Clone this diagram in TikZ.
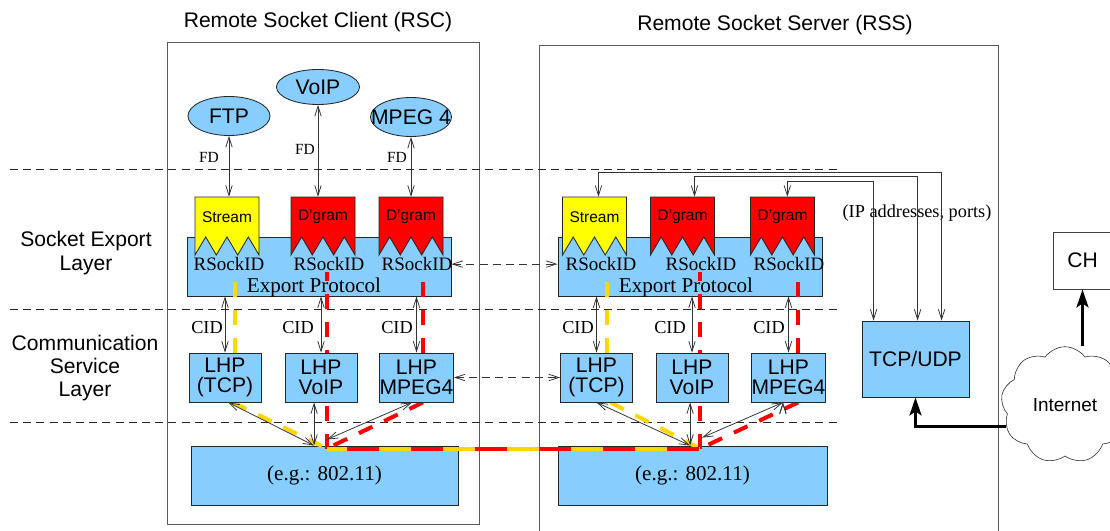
\documentclass[tikz,border=0pt]{standalone}
\usepackage{fontspec}
\setmainfont{Liberation Serif}
\setsansfont{Liberation Sans}
\usepackage{tikz}
\usetikzlibrary{arrows.meta, calc, positioning, shapes.geometric, shapes.symbols}
\definecolor{fxblue}{HTML}{87CEFF}
\definecolor{fxgold}{HTML}{FFD700}
\definecolor{fxred}{HTML}{FF0000}
\definecolor{fxyellow}{HTML}{FFFF00}
\newcommand{\sfsize}[2]{\sffamily\fontsize{#1}{#2}\selectfont}
\newcommand{\rmsize}[2]{\rmfamily\fontsize{#1}{#2}\selectfont}
% socket: name, x, y, fill, label
\newcommand{\drawSocket}[5]{\filldraw[fill=#4, draw=black!85, line width=0.6pt]
    (#2-32,#3-20) -- (#2+32,#3-20) -- (#2+32,#3+38) -- (#2+21.3,#3+20)
    -- (#2+10.7,#3+38) -- (#2,#3+20) -- (#2-10.7,#3+38) -- (#2-21.3,#3+20)
    -- (#2-32,#3+38) -- cycle;
  \node[socklabel] (#1) at (#2,#3) {#5};}
\pgfdeclarelayer{back}
\pgfdeclarelayer{mid}
\pgfsetlayers{back,mid,main}
\tikzset{
    frame/.style={draw=black!65, line width=0.6pt, inner sep=0pt},
    layerline/.style={draw=black!85, line width=0.5pt, dash pattern=on 0.2cm off 0.13cm},
    app/.style={ellipse, draw=black!85, fill=fxblue, inner sep=0pt, line width=0.6pt, font=\sfsize{15}{17}},
    bluebox/.style={draw=black!85, fill=fxblue, inner sep=0pt, line width=0.6pt},
    lhpbox/.style={bluebox, minimum width=1.8cm, minimum height=1.225cm, align=center, font=\sfsize{15}{14}},
    socklabel/.style={inner sep=0pt, minimum width=1.6cm, minimum height=1cm, font=\sfsize{11}{13}},
    sanstext/.style={inner sep=0pt, align=center, font=\sfsize{15}{16.6}},
    serif/.style={inner sep=0pt, font=\rmsize{15}{17}},
    tag/.style={inner sep=0pt, font=\rmsize{13}{15}},
    fdtag/.style={inner sep=0pt, font=\rmsize{11}{13}},
    rsock/.style={inner sep=0pt, font=\rmsize{13.5}{15}},
    biarrow/.style={{Straight Barb[length=0.25cm,width=0.16cm]}-{Straight Barb[length=0.25cm,width=0.16cm]}, draw=black!80, line width=0.55pt},
    dasharrow/.style={biarrow, dash pattern=on 0.2cm off 0.13cm},
    bigarrow/.style={-{Stealth[length=0.45cm,width=0.3cm,inset=0.1cm]}, line width=0.07cm},
    goldflow/.style={draw=fxgold, line width=0.1cm, dash pattern=on 0.375cm off 0.325cm},
    redflow/.style={goldflow, draw=fxred}}
\begin{document}
\begin{tikzpicture}[x=0.025cm, y=-0.025cm]
\useasboundingbox (0,0) rectangle (1110,531);
\clip (0,0) rectangle (1110,531);

\begin{pgfonlayer}{back}
\node[frame, minimum width=7.8cm, minimum height=12.05cm] (rsc) at (323,283) {};
\node[frame, minimum width=11.475cm, minimum height=12.375cm] (rss) at (768.5,292.5) {};
\foreach \ly in {169,309,422}
  \draw[layerline] (10,\ly) -- (838,\ly);
\node[bluebox, minimum width=6.6cm, minimum height=1.475cm] (expL) at (319,266.5) {};
\node[bluebox, minimum width=6.6cm, minimum height=1.475cm] (expR) at (690,266.5) {};
\node[bluebox, minimum width=6.675cm, minimum height=1.475cm, font=\rmsize{15}{17}] (phyL) at (324.5,475.5) {(e.g.: 802.11)};
\node[bluebox, minimum width=6.725cm, minimum height=1.475cm, font=\rmsize{15}{17}] (phyR) at (692.5,475.5) {(e.g.: 802.11)};
\end{pgfonlayer}

\node[sanstext] (rsctitle) at (318,22) {Remote Socket Client (RSC)};
\node[sanstext] (rsstitle) at (775,25) {Remote Socket Server (RSS)};
\node[sanstext] (sel) at (86,253) {Socket Export\\Layer};
\node[sanstext] (csl) at (85,368) {Communication\\Service\\Layer};

% applications
\node[app, minimum width=2.05cm, minimum height=0.975cm] (ftp) at (229,116) {FTP};
\node[app, minimum width=2.075cm, minimum height=0.875cm] (voip) at (318,87) {VoIP};
\node[app, minimum width=2.025cm, minimum height=0.975cm] (mpeg) at (411,117) {};
\node[sanstext] (mpegtext) at (mpeg) {MPEG 4};

% sockets
\drawSocket{sockL1}{227}{217}{fxyellow}{Stream}
\drawSocket{sockL2}{323}{217}{fxred}{D'gram}
\drawSocket{sockL3}{411}{217}{fxred}{D'gram}
\drawSocket{sockR1}{594.5}{217}{fxyellow}{Stream}
\drawSocket{sockR2}{682.5}{217}{fxred}{D'gram}
\drawSocket{sockR3}{782.5}{217}{fxred}{D'gram}

\node[rsock] (idL1) at (229,264) {RSockID};
\node[rsock] (idL2) at (329,264) {RSockID};
\node[rsock] (idL3) at (417,264) {RSockID};
\node[rsock] (idR1) at (601,264) {RSockID};
\node[rsock] (idR2) at (701,264) {RSockID};
\node[rsock] (idR3) at (789,264) {RSockID};
\node[serif] (epL) at (314,287) {Export Protocol};
\node[serif] (epR) at (686,287) {Export Protocol};

% lower hop protocols
\node[lhpbox] (lhpL1) at (225,377.5) {LHP\\(TCP)};
\node[lhpbox] (lhpL2) at (321,377.5) {LHP\\VoIP};
\node[lhpbox] (lhpL3) at (416.5,377.5) {LHP\\MPEG4};
\node[lhpbox] (lhpR1) at (596.5,377.5) {LHP\\(TCP)};
\node[lhpbox] (lhpR2) at (692,377.5) {LHP\\VoIP};
\node[lhpbox] (lhpR3) at (788.5,377.5) {LHP\\MPEG4};

\node[bluebox, minimum width=2.675cm, minimum height=1.9cm, font=\sfsize{15}{17}] (tcp) at (915.5,359) {TCP/UDP};
\node[frame, draw=black!75, minimum width=1.475cm, minimum height=1.425cm, font=\sfsize{15}{17}] (ch) at (1082.5,260.5) {CH};
\node[cloud, draw=black!85, fill=white, cloud puffs=9, cloud puff arc=110, minimum width=3.2cm, minimum height=2.5cm, font=\sfsize{13.5}{15}] (net) at (1065,405) {Internet};
\node[tag] (ipports) at (917,213) {(IP addresses, ports)};

\foreach \n/\x in {fd1/209, fd3/397}
  \node[fdtag] (\n) at (\x,157) {FD};
\node[fdtag] (fd2) at (305,149) {FD};
\foreach \n/\x in {cidL1/207, cidL2/298, cidL3/397, cidR1/578, cidR2/670, cidR3/769}
  \node[tag] (\n) at (\x,328) {CID};

\coordinate (busL) at ([xshift=0.06cm,yshift=-0.075cm]phyL.north);
\coordinate (busR) at ([xshift=0.19cm,yshift=-0.075cm]phyR.north);
\coordinate (hubL) at ([xshift=-0.26cm]phyL.north);
\coordinate (hubL3) at ([xshift=0.06cm,yshift=0.15cm]phyL.north);
\coordinate (hubR) at ([xshift=-0.06cm]phyR.north);
\coordinate (hubR3) at ([xshift=0.24cm,yshift=0.2cm]phyR.north);

% data paths
\begin{pgfonlayer}{mid}
\draw[goldflow] ([xshift=0.25cm]lhpL1.north) -- ++(0,-81);
\draw[goldflow] ([xshift=0.2cm]lhpL1.south) -- (busL);
\draw[goldflow] ([xshift=0.27cm]lhpR1.north) -- ++(0,-81);
\draw[goldflow] ([xshift=0.35cm]lhpR1.south) -- (busR);
\draw[redflow] ([xshift=0.16cm]lhpL3.north) -- ++(0,-81);
\draw[redflow] ([xshift=0.16cm]lhpL3.south) -- (busL);
\draw[redflow] (busL) -- ++(0,-177);
\draw[redflow] ([xshift=0.24cm]lhpR3.north) -- ++(0,-81);
\draw[redflow] ([xshift=0.24cm]lhpR3.south) -- (busR);
\draw[redflow] (busR) -- ++(0,-177);
\draw[goldflow, solid] (busL) -- (busR);
\draw[redflow, dash pattern=on 0.8cm off 0.8cm, dash phase=1.1cm] (busL) -- (busR);
\end{pgfonlayer}

\path[biarrow]
    (ftp)  edge (ftp.south |- sockL1.north)
    (voip) edge (voip.south |- sockL2.north)
    (mpeg) edge (mpeg.south |- sockL3.north)
    (lhpL1) edge (lhpL1.north |- expL.south)
    (lhpL2) edge (lhpL2.north |- expL.south)
    (lhpL3) edge (lhpL3.north |- expL.south)
    (lhpR1) edge (lhpR1.north |- expR.south)
    (lhpR2) edge (lhpR2.north |- expR.south)
    (lhpR3) edge (lhpR3.north |- expR.south)
    ([xshift=0.08cm]lhpL1.south) edge (hubL)
    (hubL |- lhpL2.south) edge (hubL)
    ([xshift=-0.11cm]lhpL3.south) edge (hubL3)
    (lhpR1.south) edge (hubR)
    (hubR |- lhpR2.south) edge (hubR)
    ([xshift=-0.14cm]lhpR3.south) edge (hubR3);
\draw[biarrow] ([xshift=0.1cm]sockR1.north) -- ++(0,-24) -| ([xshift=2cm]tcp.north west);
\draw[biarrow] ([xshift=0.3cm]sockR2.north) -- ++(0,-20) -| ([xshift=1.4cm]tcp.north west);
\draw[biarrow] ([xshift=0.12cm]sockR3.north) -- ++(0,-15) -| ([xshift=0.3cm]tcp.north west);
\draw[dasharrow] ([yshift=0.06cm]expL.east) -- ([yshift=0.06cm]expR.west);
\draw[dasharrow] (lhpL3.east) -- (lhpR1.west);
\draw[bigarrow] (net.200) -| (tcp.south);
\draw[bigarrow] (ch.south |- net.north) -- (ch.south);
\end{tikzpicture}
\end{document}
